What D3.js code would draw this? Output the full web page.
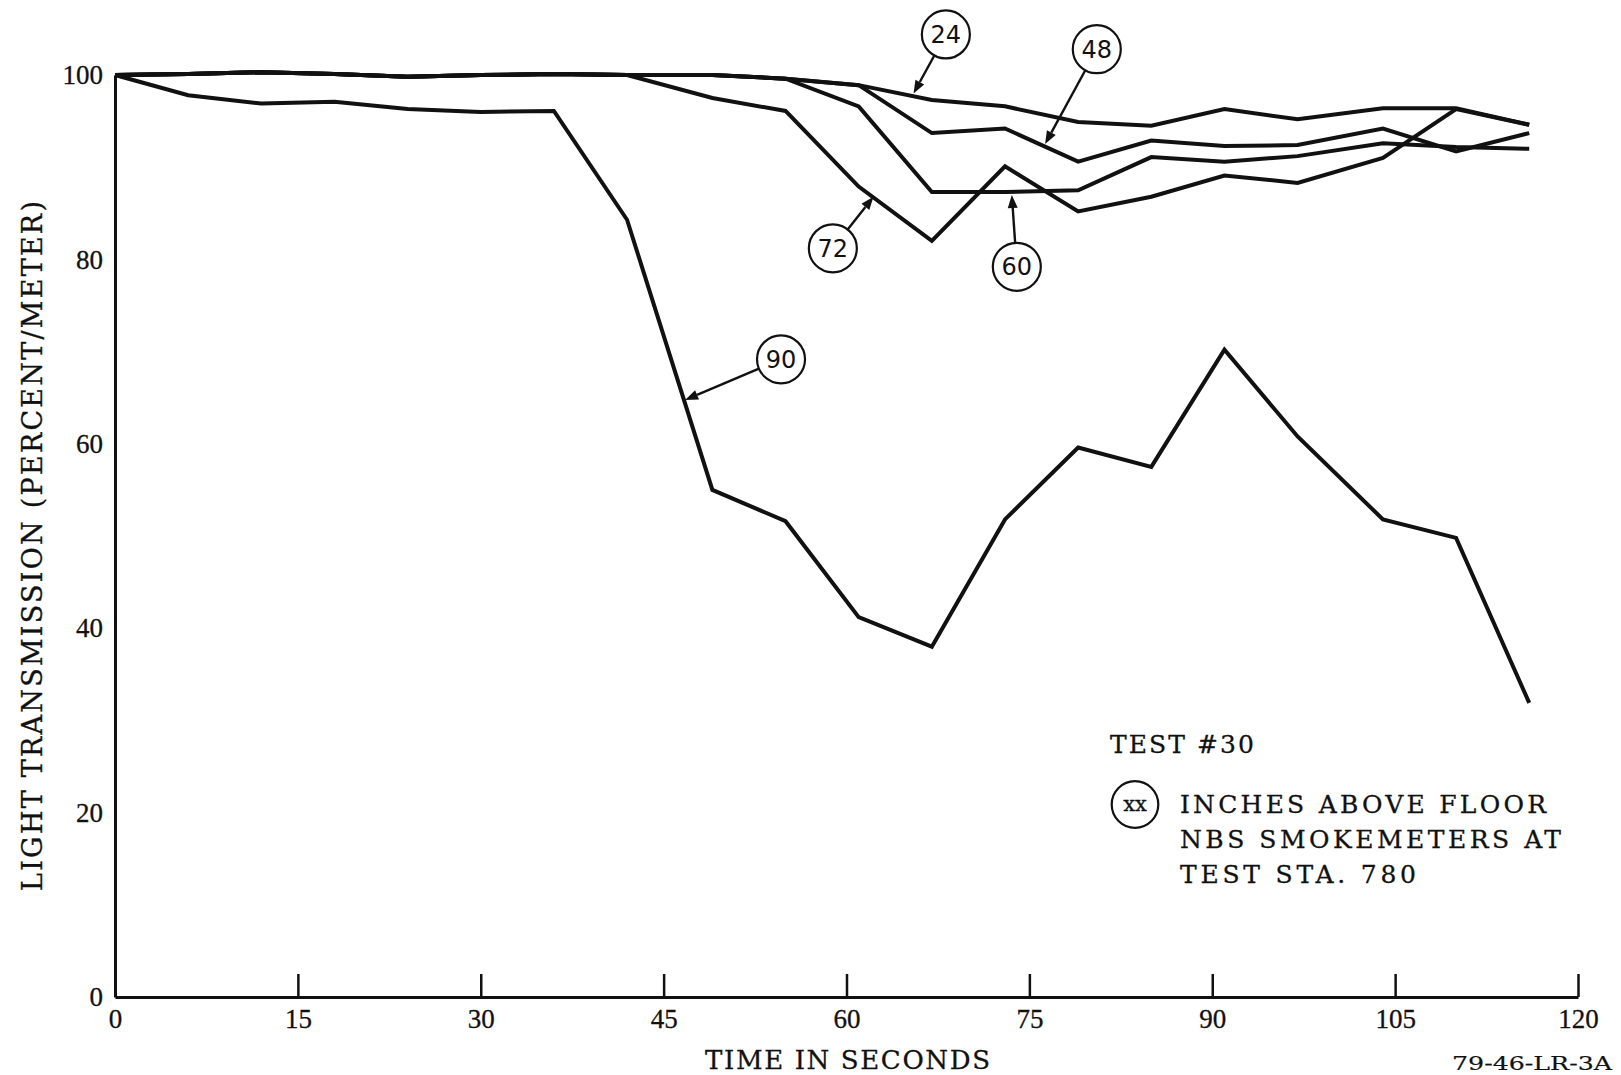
<!DOCTYPE html>
<html>
<head>
<meta charset="utf-8">
<script src="https://cdn.jsdelivr.net/npm/d3@7"></script>
<style>
  html, body { margin: 0; padding: 0; background: #fff; }
  svg { display: block; }
</style>
</head>
<body>
<svg id="chart" width="1621" height="1075"></svg>
<script>
// Sample times (seconds) shared by every smokemeter trace
const times = [0, 6, 12, 18, 24, 30, 36, 42, 49, 55, 61, 67, 73, 79, 85, 91, 97, 104, 110, 116];

// Light transmission (percent/meter) at each height above floor (inches)
const h24 = [100, 100.1, 100.3, 100.1, 99.8, 100, 100.1, 100, 100, 99.6, 98.9, 97.3, 96.6, 94.9, 94.5, 96.3, 95.2, 96.4, 96.4, 94.6];
const h48 = [100, 100.1, 100.3, 100.1, 99.8, 100, 100.1, 100, 100, 99.6, 98.9, 93.7, 94.2, 90.6, 92.9, 92.3, 92.4, 94.2, 91.7, 93.7];
const h60 = [100, 100.1, 100.3, 100.1, 99.8, 100, 100.1, 100, 100, 99.6, 96.6, 87.3, 87.3, 87.5, 91.1, 90.6, 91.2, 92.6, 92.2, 92.0];
const h72 = [100, 100.1, 100.3, 100.1, 99.8, 100, 100.1, 100, 97.5, 96.1, 87.9, 82.0, 90.1, 85.2, 86.8, 89.1, 88.3, 91.0, 96.3, 94.6];
const h90 = [100, 97.8, 96.9, 97.1, 96.3, 96.0, 96.1, 84.3, 55.0, 51.6, 41.2, 38.0, 51.8, 59.6, 57.5, 70.2, 60.8, 51.8, 49.8, 31.9];

const seriesNames = ["24", "48", "60", "72", "90"];
const seriesValues = [h24, h48, h60, h72, h90];

// Tick values
const xTicks = [0, 15, 30, 45, 60, 75, 90, 105, 120];
const yTicks = [0, 20, 40, 60, 80, 100];

// Circled callouts: label, circle centre and arrow tip in (seconds, percent)
const calloutLabels = ["24", "48", "60", "72", "90"];
const calloutCentres = [[68.15, 104.4], [80.53, 102.8], [73.97, 79.2], [58.88, 81.2], [54.63, 69.16]];
const calloutTips = [[65.5, 98.0], [76.29, 92.52], [73.56, 86.98], [62.21, 86.8], [46.76, 64.75]];

const legendLines = ["INCHES ABOVE FLOOR", "NBS SMOKEMETERS AT", "TEST STA. 780"];

const svg = d3.select("#chart");
const ink = "#111";
const serif = "'DejaVu Serif', serif";

const x = d3.scaleLinear().domain([0, 120]).range([115, 1578]);
const y = d3.scaleLinear().domain([0, 100]).range([997, 75]);

// Typewriter-style text is a touch heavier than the plain face
function inked(sel, w) {
  return sel.attr("fill", ink).attr("stroke", ink).attr("stroke-width", w).attr("paint-order", "stroke");
}

// X axis with upward ticks
const xAxis = d3.axisBottom(x)
  .tickValues(xTicks)
  .tickSize(-23)
  .tickSizeOuter(0)
  .tickPadding(12)
  .tickFormat(d3.format("d"));
const gx = svg.append("g").attr("transform", `translate(0,${y(0)})`).call(xAxis);
gx.select(".domain").attr("stroke", ink).attr("stroke-width", 3);
gx.selectAll(".tick line").attr("stroke", ink).attr("stroke-width", 2.5)
  .filter(d => d === 0).remove();
inked(gx.selectAll(".tick text"), 0.3)
  .style("font-family", "'Liberation Serif', serif")
  .style("font-size", "27px");

// Y axis: labels only, no tick marks
const yAxis = d3.axisLeft(y)
  .tickValues(yTicks)
  .tickSize(0)
  .tickSizeOuter(0)
  .tickPadding(12)
  .tickFormat(d3.format("d"));
const gy = svg.append("g").attr("transform", `translate(${x(0)},0)`).call(yAxis);
gy.select(".domain").attr("stroke", ink).attr("stroke-width", 3);
inked(gy.selectAll(".tick text"), 0.3)
  .style("font-family", "'Liberation Serif', serif")
  .style("font-size", "27px");

// Traces
const line = d3.line()
  .x((d, i) => x(times[i]))
  .y(d => y(d));

svg.append("g")
  .selectAll("path")
  .data(seriesValues)
  .join("path")
  .attr("d", line)
  .attr("fill", "none")
  .attr("stroke", ink)
  .attr("stroke-width", 4)
  .attr("stroke-linejoin", "miter")
  .attr("stroke-miterlimit", 6);

// Callouts: circle with height label and arrow to the trace
const r = 24;
const callouts = svg.append("g");
calloutLabels.forEach((lab, i) => {
  const cx = x(calloutCentres[i][0]), cy = y(calloutCentres[i][1]);
  const tx = x(calloutTips[i][0]), ty = y(calloutTips[i][1]);
  const dx = tx - cx, dy = ty - cy, len = Math.hypot(dx, dy);
  const ux = dx / len, uy = dy / len;
  const sx = cx + ux * r, sy = cy + uy * r;
  const headLen = 13, headW = 5;
  const bx = tx - ux * headLen, by = ty - uy * headLen;
  callouts.append("circle")
    .attr("cx", cx).attr("cy", cy).attr("r", r)
    .attr("fill", "#fff").attr("stroke", ink).attr("stroke-width", 2.2);
  callouts.append("text")
    .attr("x", cx).attr("y", cy).attr("dy", "0.36em")
    .attr("text-anchor", "middle")
    .attr("fill", ink)
    .style("font-family", "'DejaVu Sans', sans-serif")
    .style("font-size", "24px")
    .text(lab);
  callouts.append("line")
    .attr("x1", sx).attr("y1", sy).attr("x2", bx).attr("y2", by)
    .attr("stroke", ink).attr("stroke-width", 2.4);
  callouts.append("path")
    .attr("d", `M${tx},${ty}L${bx - uy * headW},${by + ux * headW}L${bx + uy * headW},${by - ux * headW}Z`)
    .attr("fill", ink);
});

// Axis titles
inked(svg.append("text"), 0.3)
  .attr("transform", "translate(42,546) rotate(-90)")
  .attr("text-anchor", "middle")
  .attr("textLength", 690).attr("lengthAdjust", "spacing")
  .style("font-family", serif).style("font-size", "27px")
  .text("LIGHT TRANSMISSION (PERCENT/METER)");

inked(svg.append("text"), 0.3)
  .attr("x", 847.5).attr("y", 1069)
  .attr("text-anchor", "middle")
  .attr("textLength", 285).attr("lengthAdjust", "spacing")
  .style("font-family", serif).style("font-size", "26px")
  .text("TIME IN SECONDS");

inked(svg.append("text"), 0.2)
  .attr("x", 1452).attr("y", 1070)
  .attr("textLength", 160).attr("lengthAdjust", "spacingAndGlyphs")
  .style("font-family", serif).style("font-size", "19px")
  .text("79-46-LR-3A");

// Legend block
const legend = svg.append("g");
inked(legend.append("text"), 0.3)
  .attr("x", 1110).attr("y", 753)
  .attr("textLength", 144).attr("lengthAdjust", "spacing")
  .style("font-family", serif).style("font-size", "25px")
  .text("TEST #30");
legend.append("circle")
  .attr("cx", 1135).attr("cy", 804.5).attr("r", 23.3)
  .attr("fill", "none").attr("stroke", ink).attr("stroke-width", 2.2);
inked(legend.append("text"), 0.3)
  .attr("x", 1135).attr("y", 804.5).attr("dy", "0.3em")
  .attr("text-anchor", "middle")
  .style("font-family", serif).style("font-size", "21px")
  .text("xx");
const legendWidths = [366, 381, 236];
legendLines.forEach((t, i) => {
  inked(legend.append("text"), 0.3)
    .attr("x", 1180).attr("y", 813 + i * 35)
    .attr("textLength", legendWidths[i]).attr("lengthAdjust", "spacing")
    .style("font-family", serif).style("font-size", "25px")
    .text(t);
});
</script>
</body>
</html>
